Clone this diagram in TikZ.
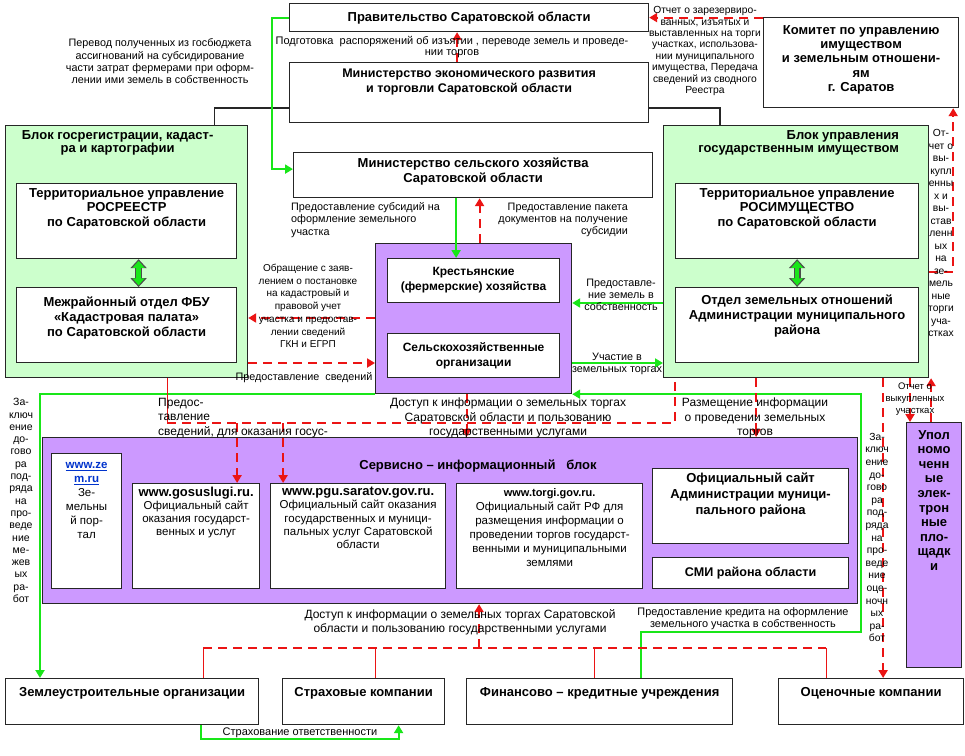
\documentclass[tikz,border=0pt]{standalone}
\usepackage{fontspec}
\setmainfont{Liberation Sans}
\usetikzlibrary{positioning,arrows.meta}
\definecolor{blockgreen}{RGB}{204,255,204}
\definecolor{blockviolet}{RGB}{204,153,255}
\definecolor{linegreen}{RGB}{25,230,25}
\definecolor{linered}{RGB}{235,20,20}
\definecolor{linkblue}{RGB}{0,51,204}

\begin{document}
\begin{tikzpicture}[x=1pt, y=-1pt,
	box/.style={draw=black!85, line width=1.2pt, fill=white, anchor=north west, inner sep=0pt},
	greenblock/.style={box, fill=blockgreen},
	violetblock/.style={box, fill=blockviolet},
	head/.style={font=\bfseries\fontsize{13}{14.8}\selectfont, align=center, inner sep=0pt},
	site/.style={font=\fontsize{11.5}{12.8}\selectfont, align=center, inner sep=0pt},
	note/.style={font=\fontsize{10.8}{12.3}\selectfont, align=center, inner sep=0pt},
	band/.style={note, font=\fontsize{12}{14.5}\selectfont},
	greenline/.style={draw=linegreen, line width=2.2pt},
	greenarrow/.style={greenline, -{Triangle[length=8pt, width=9pt]}},
	redline/.style={draw=linered, line width=2.2pt, dash pattern=on 9pt off 6pt},
	redarrow/.style={redline, -{Triangle[length=8pt, width=9pt]}},
	redthin/.style={draw=linered, line width=1pt},
	bothways/.style={draw=black!70, line width=7pt, {Triangle[length=9pt, width=16pt]}-{Triangle[length=9pt, width=16pt]},
		postaction={draw=linegreen, line width=4.4pt, shorten <=1.6pt, shorten >=1.6pt, {Triangle[length=7pt, width=11.5pt]}-{Triangle[length=7pt, width=11.5pt]}}}]

	\path[use as bounding box, fill=white] (0,0) rectangle (965,755);

	\node[box, head, minimum width=359pt, minimum height=28pt] (gov) at (289,3) {Правительство Саратовской области};
	\node[box, minimum width=359pt, minimum height=60pt] (econ) at (289,62) {};
	\node[head, font=\bfseries\fontsize{12.5}{14.5}\selectfont, below=7pt of econ.north] {Министерство экономического развития\\и торговли Саратовской области};
	\node[box, minimum width=195pt, minimum height=90pt] (committee) at (763,17) {};
	\node[head, font=\bfseries\fontsize{13}{14.4}\selectfont, below=8pt of committee.north] {Комитет по управлению\\имуществом\\и земельным отношени-\\ям\\г. Саратов};
	\node[box, minimum width=359pt, minimum height=45pt] (agri) at (293,152) {};
	\node[head, below=6pt of agri.north] {Министерство сельского хозяйства\\Саратовской области};

	\node[greenblock, minimum width=242pt, minimum height=252pt] (lblock) at (5,125) {};
	\node[head, font=\bfseries\fontsize{13}{13.5}\selectfont, below=5pt of lblock.north, xshift=-9pt] {Блок госрегистрации, кадаст-\\ра и картографии};
	\node[box, minimum width=220pt, minimum height=75pt] (rosreestr) at (16,183) {};
	\node[head, below=5pt of rosreestr.north] {Территориальное управление\\РОСРЕЕСТР\\по Саратовской области};
	\node[box, minimum width=220pt, minimum height=75pt] (kadastr) at (16,287) {};
	\node[head, below=10pt of kadastr.north] {Межрайонный отдел ФБУ\\«Кадастровая палата»\\по Саратовской области};
	\draw[bothways] ([xshift=12pt]rosreestr.south) -- ([xshift=12pt]kadastr.north);

	\node[greenblock, minimum width=265pt, minimum height=252pt] (rblock) at (663,125) {};
	\node[head, font=\bfseries\fontsize{13}{13.5}\selectfont, align=right, below left=5pt and 30pt of rblock.north east] {Блок управления\\государственным имуществом};
	\node[box, minimum width=243pt, minimum height=75pt] (rosim) at (675,183) {};
	\node[head, below=5pt of rosim.north] {Территориальное управление\\РОСИМУЩЕСТВО\\по Саратовской области};
	\node[box, minimum width=243pt, minimum height=75pt] (otdel) at (675,287) {};
	\node[head, below=8pt of otdel.north] {Отдел земельных отношений\\Администрации муниципального\\района};
	\draw[bothways] (rosim.south) -- (otdel.north);

	\node[violetblock, minimum width=196pt, minimum height=150pt] (farms) at (375,243) {};
	\node[box, head, font=\bfseries\fontsize{12}{15}\selectfont, minimum width=172pt, minimum height=44pt] (kfh) at (387,258) {Крестьянские\\(фермерские) хозяйства};
	\node[box, head, font=\bfseries\fontsize{12}{15}\selectfont, minimum width=172pt, minimum height=44pt] (sho) at (387,333) {Сельскохозяйственные\\организации};

	\node[violetblock, minimum width=815pt, minimum height=166pt] (service) at (42,437) {};
	\node[head] at (478,466) {Сервисно – информационный \ \ блок};
	\node[box, minimum width=70pt, minimum height=135pt] (zem) at (51,453) {};
	\node[site, font=\fontsize{11.5}{14}\selectfont, below=9pt of zem.north] {\textcolor{linkblue}{\textbf{\underline{www.ze}}}\\\textcolor{linkblue}{\textbf{\underline{m.ru}}}\\Зе-\\мельны\\й пор-\\тал};
	\node[box, minimum width=127pt, minimum height=105pt] (gosu) at (132,483) {};
	\node[site, below=4pt of gosu.north] {\textbf{\fontsize{13}{13}\selectfont www.gosuslugi.ru.}\\Официальный сайт\\оказания государст-\\венных и услуг};
	\node[box, minimum width=175pt, minimum height=105pt] (pgu) at (270,483) {};
	\node[site, font=\fontsize{11.5}{13.3}\selectfont, below=4pt of pgu.north] {\textbf{\fontsize{13}{13}\selectfont www.pgu.saratov.gov.ru.}\\Официальный сайт оказания\\государственных и муници-\\пальных услуг Саратовской\\области};
	\node[box, minimum width=186pt, minimum height=105pt] (torgi) at (456,483) {};
	\node[site, font=\fontsize{11.5}{14}\selectfont, below=5pt of torgi.north] {\textbf{\fontsize{11}{11}\selectfont www.torgi.gov.ru.}\\Официальный сайт РФ для\\размещения информации о\\проведении торгов государст-\\венными и муниципальными\\землями};
	\node[box, minimum width=196pt, minimum height=75pt] (admsite) at (652,468) {};
	\node[head, font=\bfseries\fontsize{13}{16}\selectfont, below=5pt of admsite.north] {Официальный сайт\\Администрации муници-\\пального района};
	\node[box, head, font=\bfseries\fontsize{12.6}{14}\selectfont, minimum width=196pt, minimum height=31pt] (smi) at (652,557) {СМИ района области};

	\node[violetblock, minimum width=55pt, minimum height=245pt] (upol) at (906,422) {};
	\node[head, font=\bfseries\fontsize{13}{14.6}\selectfont, below=8pt of upol.north] {Упол\\номо\\ченн\\ые\\элек-\\трон\\ные\\пло-\\щадк\\и};

	\node[box, minimum width=253pt, minimum height=46pt] (zemorg) at (5,678) {};
	\node[head, below=9pt of zemorg.north] {Землеустроительные организации};
	\node[box, minimum width=162pt, minimum height=46pt] (strax) at (282,678) {};
	\node[head, below=9pt of strax.north] {Страховые компании};
	\node[box, minimum width=266pt, minimum height=46pt] (fin) at (466,678) {};
	\node[head, below=9pt of fin.north] {Финансово – кредитные учреждения};
	\node[box, minimum width=185pt, minimum height=46pt] (ocen) at (778,678) {};
	\node[head, below=9pt of ocen.north] {Оценочные компании};

	\draw[line width=1.2pt, black!85] ([yshift=-46pt]econ.north west) -| ([xshift=-34pt]lblock.north east);
	\draw[line width=1.2pt, black!85] ([yshift=-46pt]econ.north east) -| ([xshift=57pt]rblock.north west);

	\draw[greenarrow] (gov.west) -- ++(-17,0) |- ([yshift=6pt]agri.west);
	\draw[greenarrow] ([xshift=-17pt]agri.south) -- ([xshift=-17pt]agri.south |- kfh.north);
	\draw[greenarrow] ([yshift=-178pt]rblock.north west) -- ([yshift=-178pt]rblock.north west -| farms.east);
	\draw[greenarrow] ([yshift=-120pt]farms.north east) -- ([yshift=-120pt]farms.north east -| rblock.west);
	\draw[greenarrow] (farms.south west) -| ([xshift=35pt]zemorg.north west);
	\draw[greenarrow] ([xshift=41pt]fin.north) -- ++(0,-46) -| ([xshift=3pt]service.east |- farms.south) -- (farms.south east);
	\draw[greenarrow] ([xshift=69pt]zemorg.south) -- ++(0,14) -| ([xshift=35pt]strax.south);

	\draw[redarrow] ([xshift=-12pt]econ.north) -- ([xshift=-12pt]gov.south);
	\draw[redarrow] (gov.east -| committee.west) -- (gov.east);
	\draw[redarrow] ([yshift=-147pt]rblock.north east) -| ([xshift=-6pt]committee.south east);
	\draw[redarrow] ([xshift=6pt]farms.north) -- ([xshift=6pt]farms.north |- agri.south);
	\draw[redarrow] ([yshift=-75pt]farms.north west) -- ([yshift=-75pt]farms.north west -| lblock.east);
	\draw[redarrow] ([yshift=-238pt]lblock.north east) -- ([yshift=-238pt]lblock.north east -| farms.west);

	\coordinate (busw) at ([xshift=-81pt, yshift=-45pt]lblock.south east);
	\coordinate (buse) at ([xshift=12pt, yshift=-45pt]rblock.south west);
	\draw[redthin] (busw |- lblock.south) -- (busw);
	\draw[redline] (busw) -- (buse) -- (buse |- rblock.south);
	\draw[redarrow] ([xshift=41pt]gosu.north |- busw) -- ([xshift=41pt]gosu.north);
	\draw[redarrow] ([xshift=-75pt]pgu.north |- busw) -- ([xshift=-75pt]pgu.north);
	\draw[redarrow] ([xshift=-7pt]farms.south) -- ([xshift=-7pt]farms.south |- service.north);
	\draw[redarrow] ([xshift=-40pt]rblock.south) -- ([xshift=-40pt]rblock.south |- service.north);
	\draw[redarrow] ([xshift=87pt]rblock.south) -- ([xshift=87pt]rblock.south |- ocen.north);
	\draw[redarrow] ([xshift=4pt]upol.north west |- rblock.south) -- ([xshift=4pt]upol.north west);
	\draw[redarrow] ([xshift=-3pt]upol.north) -- ([xshift=-3pt]upol.north |- rblock.south);

	\coordinate (busbw) at ([xshift=71pt, yshift=30pt]zemorg.north);
	\coordinate (busbe) at ([xshift=-45pt, yshift=30pt]ocen.north);
	\draw[redline] (busbw) -- (busbe);
	\draw[redthin] (busbw) -- (busbw |- zemorg.north);
	\draw[redthin] ([xshift=12pt]strax.north |- busbw) -- ([xshift=12pt]strax.north);
	\draw[redthin] ([xshift=-5pt]fin.north |- busbw) -- ([xshift=-5pt]fin.north);
	\draw[redthin] (busbe) -- (busbe |- ocen.north);
	\draw[redarrow] ([xshift=29pt]service.south |- busbw) -- ([xshift=29pt]service.south);

	\node[note] (perevodnote) at (160,61.5) {Перевод полученных из госбюджета\\ассигнований на субсидирование\\части затрат фермерами при оформ-\\лении ими земель в собственность};
	\node[note, font=\fontsize{11}{11}\selectfont] (podgotnote) at (452,47.5) {Подготовка \ распоряжений об изъятии , переводе земель и проведе-\\нии торгов};
	\node[note, font=\fontsize{10.3}{11.4}\selectfont] (reservnote) at (705,51) {Отчет о зарезервиро-\\ванных, изъятых и\\выставленных на торги\\участках, использова-\\нии муниципального\\имущества, Передача\\сведений из сводного\\Реестра};
	\node[note, align=left, anchor=west] (subsidnote) at (291,220) {Предоставление субсидий на\\оформление земельного\\участка};
	\node[note, align=right, anchor=east] (paketnote) at (628,220) {Предоставление пакета\\документов на получение\\субсидии};
	\node[note, font=\fontsize{10}{12.7}\selectfont] (obrashnote) at (308,306) {Обращение с заяв-\\лением о постановке\\на кадастровый и\\правовой учет\\участка и предостав-\\лении сведений\\ГКН и ЕГРП};
	\node[note] (svednote) at (304,378) {Предоставление \ сведений};
	\node[note] (zemlinote) at (621,295) {Предоставле-\\ние земель в\\собственность};
	\node[note] (torginote) at (617,364) {Участие в\\земельных торгах};
	\node[note, font=\fontsize{10.3}{12.5}\selectfont] (vykupnote) at (941,233) {От-\\чет о\\вы-\\купл\\енны\\х и\\вы-\\став\\ленн\\ых\\на\\зе-\\мель\\ные\\торги\\уча-\\стках};
	\node[band, align=left, anchor=west] (gosusnote) at (158,418) {Предос-\\тавление\\сведений, для оказания госус-};
	\node[band] (dostupnote) at (508,418) {Доступ к информации о земельных торгах\\Саратовской области и пользованию\\государственными услугами};
	\node[band] (razmnote) at (755,418) {Размещение информации\\о проведении земельных\\торгов};
	\node[note, font=\fontsize{9.5}{12}\selectfont] (otchetnote) at (915,399) {Отчет о\\выкупленных\\участках};
	\node[note, font=\fontsize{10.5}{12.3}\selectfont] (mezhnote) at (21,500.5) {За-\\ключ\\ение\\до-\\гово\\ра\\под-\\ряда\\на\\про-\\веде\\ние\\ме-\\жев\\ых\\ра-\\бот};
	\node[note, font=\fontsize{10.3}{12.6}\selectfont] (ocennote) at (877,537.5) {За-\\ключ\\ение\\до-\\гово\\ра\\под-\\ряда\\на\\про-\\веде\\ние\\оце-\\ночн\\ых\\ра-\\бот};
	\node[note, font=\fontsize{12}{14}\selectfont] (dostup2note) at (460,622) {Доступ к информации о земельных торгах Саратовской\\области и пользованию государственными услугами};
	\node[note, font=\fontsize{10.9}{12}\selectfont] (kreditnote) at (743,619) {Предоставление кредита на оформление\\земельного участка в собственность};
	\node[note, font=\fontsize{11}{12}\selectfont] (straxnote) at (300,733) {Страхование ответственности};
\end{tikzpicture}
\end{document}
